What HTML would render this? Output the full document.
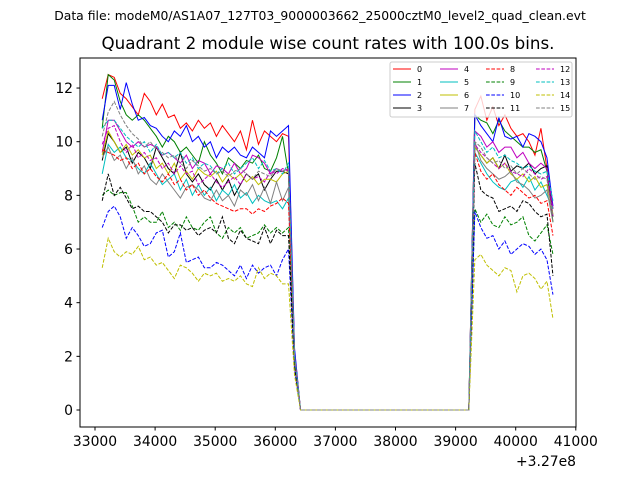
<!DOCTYPE html>
<html><head><meta charset="utf-8"><style>
body{margin:0;background:#fff;}
svg{display:block;font-family:"DejaVu Sans","Liberation Sans",sans-serif;}
</style></head><body>
<svg id="chart" width="640" height="480" viewBox="0 0 640 480">
<rect width="640" height="480" fill="#fff"/>
<text x="320" y="20" font-size="12.4" text-anchor="middle">Data file: modeM0/AS1A07_127T03_9000003662_25000cztM0_level2_quad_clean.evt</text>
<text x="328" y="49" font-size="16.7" text-anchor="middle">Quadrant 2 module wise count rates with 100.0s bins.</text>
<g id="series"></g>
<rect x="80" y="58" width="496" height="369" fill="none" stroke="#000" stroke-width="1"/>
<g id="axes"></g>
<text x="576" y="466" font-size="13.9" text-anchor="end">+3.27e8</text>
<g id="legend"></g>
</svg>
<script>
const colors=["#ff0000","#008000","#0000ff","#000000","#bf00bf","#00bfbf","#bfbf00","#808080"];
const xTicks=[33000,34000,35000,36000,37000,38000,39000,40000,41000];
const yTicks=[0,2,4,6,8,10,12];
const timeStart=33120, timeStep=100;
const gap=[0,0,0,0,0,0,0,0,0,0,0,0,0,0,0,0,0,0,0,0,0,0,0,0,0,0,0,0,0];
const left0=[11.6,12.5,12.4,11.8,11.6,11.3,11.0,11.8,11.5,11.0,11.4,10.9,11.0,10.5,10.7,10.4,10.8,10.5,10.7,10.2,10.6,10.3,10.0,10.4,9.7,10.8,9.9,10.4,10.2,10.0,10.3,10.2];
const left1=[10.5,12.5,12.3,11.5,11.0,10.8,11.0,10.8,10.5,10.2,9.8,10.2,10.0,9.6,9.8,9.5,9.2,10.0,9.5,9.2,8.8,9.4,9.2,9.0,9.3,9.2,9.5,9.0,8.9,9.4,10.2,8.8];
const left2=[10.8,12.1,12.1,11.2,12.2,11.4,10.8,10.9,10.6,10.5,10.2,10.0,10.4,10.2,10.6,10.0,10.2,9.8,10.0,9.4,9.8,9.6,9.8,9.5,9.4,9.8,9.6,9.4,10.4,10.2,10.4,10.6];
const left3=[9.3,10.3,10.0,9.6,9.8,9.2,9.6,9.4,9.0,9.8,9.4,9.0,8.8,9.6,8.8,8.5,8.8,8.4,8.2,8.6,8.2,8.6,8.0,8.4,8.8,8.6,8.8,8.2,8.6,8.9,8.9,8.8];
const left4=[9.6,10.8,10.8,10.4,10.0,9.8,10.0,9.8,9.9,9.8,9.5,9.6,9.4,9.2,9.5,9.0,9.3,9.2,8.8,9.1,9.0,8.8,9.2,8.8,9.0,9.5,9.4,9.2,8.8,9.0,8.9,9.0];
const left5=[8.8,9.9,9.6,9.8,9.4,9.3,9.0,8.8,9.2,8.8,8.4,8.6,8.8,8.2,8.6,8.0,8.4,8.0,8.3,7.8,8.2,8.0,8.4,7.9,8.1,7.7,8.0,7.8,7.7,7.8,7.5,7.9];
const left6=[9.5,10.4,10.0,9.6,9.9,9.5,9.7,9.4,9.5,9.0,9.2,8.8,9.2,8.6,8.9,8.6,9.0,8.8,8.7,8.9,8.5,8.8,8.6,8.8,8.5,8.7,8.4,8.6,8.6,8.5,8.8,8.9];
const left7=[9.4,9.8,9.3,9.5,9.0,9.4,8.8,9.1,8.6,8.4,8.8,8.5,8.2,7.9,8.3,8.4,8.2,7.9,7.8,8.2,7.8,8.0,7.6,8.2,8.0,8.4,7.8,8.3,7.7,8.5,7.8,8.3];
const left8=[9.7,9.6,9.5,9.3,9.4,9.0,9.2,8.8,9.0,8.7,8.5,8.8,8.4,8.6,8.2,8.4,8.0,8.2,7.9,7.7,7.6,7.5,7.4,7.5,7.5,7.3,7.5,7.4,7.6,7.7,7.9,7.7];
const left9=[8.0,8.2,8.0,8.1,8.1,7.6,7.0,7.2,7.0,7.0,7.4,6.8,7.0,6.7,7.2,6.8,6.7,7.0,7.2,6.6,6.4,6.8,6.6,6.8,6.4,6.5,6.6,6.9,6.6,6.8,6.6,6.8];
const left10=[6.8,7.4,7.6,7.2,6.4,6.8,6.5,6.1,6.2,6.6,6.7,5.7,5.9,6.6,5.5,5.6,5.7,5.3,5.3,5.5,5.4,5.2,5.0,5.4,4.9,5.4,5.1,5.3,5.4,5.0,5.6,6.0];
const left11=[7.8,8.8,8.0,8.3,7.9,7.5,7.6,7.4,7.4,7.2,7.0,6.6,6.9,6.9,6.7,6.8,6.5,6.7,6.8,6.6,7.2,6.4,6.2,6.7,6.4,6.3,6.2,6.8,6.2,6.7,6.5,6.5];
const left12=[9.9,10.5,10.6,10.0,9.6,9.9,9.4,9.6,9.3,9.4,9.0,9.2,8.8,9.1,8.8,8.9,8.4,8.6,8.8,8.5,8.3,8.5,8.7,8.4,8.8,8.6,8.7,8.5,8.9,8.8,9.0,8.9];
const left13=[10.5,10.8,10.8,10.5,10.2,10.0,9.8,10.0,9.6,9.9,9.5,9.6,9.4,9.6,9.2,9.4,9.0,9.2,9.1,8.8,9.0,9.2,8.8,9.0,9.2,9.4,9.0,9.3,8.9,9.0,8.8,9.2];
const left14=[5.3,6.4,5.9,5.7,5.9,5.8,6.1,5.6,5.7,5.4,5.5,5.2,4.9,5.4,5.3,5.1,4.8,5.1,5.0,5.1,4.8,4.9,4.8,5.0,4.7,4.6,5.3,4.9,5.1,5.0,4.7,4.7];
const left15=[10.2,11.1,11.5,11.0,10.6,10.3,10.1,9.8,10.0,9.7,9.6,9.4,9.5,9.2,9.0,9.3,9.1,8.9,9.0,8.8,8.9,8.7,8.9,9.0,8.8,8.6,8.9,8.8,8.7,9.0,8.9,9.0];
const drop=[2.2,2.1,2.3,2.0,2.0,1.9,2.0,1.9,1.8,1.7,1.5,1.7,2.0,2.0,1.3,2.0];
const right0=[11.2,11.7,10.8,11.3,10.6,11.0,10.5,10.2,10.3,10.0,9.5,10.5,9.0,7.5];
const right1=[11.0,10.8,10.7,10.3,10.8,10.4,10.2,10.0,9.8,9.8,9.6,9.7,8.9,7.0];
const right2=[11.0,10.6,10.3,10.0,10.9,10.2,10.1,10.2,9.8,10.3,10.2,10.0,9.4,7.6];
const right3=[9.8,9.5,9.2,9.4,9.0,9.5,8.9,9.1,9.0,9.2,8.8,9.0,9.1,7.2];
const right4=[10.4,10.2,9.8,10.0,9.6,9.8,9.8,9.4,9.6,9.2,9.0,9.2,9.0,7.5];
const right5=[9.6,9.2,8.8,8.5,8.3,8.2,8.5,8.6,8.3,8.7,8.2,8.5,8.0,7.5];
const right6=[9.8,9.5,9.2,9.4,9.0,9.2,8.8,8.6,8.8,8.5,8.7,8.3,8.4,7.3];
const right7=[10.0,9.3,9.0,8.8,8.6,8.7,8.9,8.5,8.4,8.2,7.9,8.0,8.2,7.0];
const right8=[9.6,8.9,8.6,8.8,8.4,8.2,8.0,8.3,8.1,7.9,8.0,7.7,7.8,6.5];
const right9=[7.5,7.0,7.3,6.9,6.8,7.2,6.9,7.0,7.2,6.5,6.3,6.6,6.9,5.8];
const right10=[7.4,6.8,6.4,6.5,6.0,6.3,5.8,6.0,6.2,6.1,5.8,6.0,5.6,4.3];
const right11=[9.2,8.2,8.0,7.9,7.4,7.5,7.6,7.4,7.8,7.7,7.4,7.2,7.3,5.0];
const right12=[9.9,9.6,9.4,9.2,9.0,9.2,8.9,8.8,8.7,9.0,8.8,8.6,8.7,7.2];
const right13=[10.4,10.0,9.6,9.8,9.4,9.5,9.3,9.2,9.0,9.1,8.9,8.8,8.9,7.8];
const right14=[5.6,5.8,5.4,5.2,5.0,5.3,5.2,4.4,5.0,5.1,4.9,4.5,4.8,3.4];
const right15=[10.0,9.8,9.4,9.2,9.3,9.0,9.1,8.8,9.0,8.8,8.6,8.7,8.6,7.2];
const lefts=[left0,left1,left2,left3,left4,left5,left6,left7,left8,left9,left10,left11,left12,left13,left14,left15];
const rights=[right0,right1,right2,right3,right4,right5,right6,right7,right8,right9,right10,right11,right12,right13,right14,right15];

const NS="http://www.w3.org/2000/svg";
function xs(v){return 95+(v-33000)*60.1/1000;}
function ys(v){return 410-v*26.83;}
function mk(t,a,p){const e=document.createElementNS(NS,t);for(const k in a)e.setAttribute(k,a[k]);p.appendChild(e);return e;}

const sg=document.getElementById('series');
for(let s=0;s<16;s++){
  const vals=lefts[s].concat([drop[s]],gap,rights[s]);
  let d="";
  vals.forEach((v,i)=>{const t=timeStart+i*timeStep;d+=(i?"L":"M")+xs(t).toFixed(2)+","+ys(v).toFixed(2);});
  const p=mk('path',{d:d,fill:'none',stroke:colors[s%8],'stroke-width':1},sg);
  if(s>=8)p.setAttribute('stroke-dasharray','3.7,1.6');
  
  
}
const ax=document.getElementById('axes');
xTicks.forEach(v=>{
  const x=xs(v);
  const l=mk('line',{x1:x,x2:x,y1:427,y2:430.5,stroke:'#000'},ax);
  
  
  const t=mk('text',{x:x,y:446,'font-size':13.9,'text-anchor':'middle'},ax);
  t.textContent=v;
  
  
});
yTicks.forEach(v=>{
  const y=ys(v);
  const l=mk('line',{x1:76.5,x2:80,y1:y,y2:y,stroke:'#000'},ax);
  
  
  const t=mk('text',{x:73,y:y+5,'font-size':13.9,'text-anchor':'end'},ax);
  t.textContent=v;
  
  
});
const lg=document.getElementById('legend');
const box=mk('rect',{x:390,y:62,width:182,height:55,rx:2,fill:'#fff','fill-opacity':0.8,stroke:'#ccc'},lg);


const colX=[393,440,486,536];
for(let s=0;s<16;s++){
  const c=Math.floor(s/4),r=s%4;
  const x=colX[c],y=69+r*13;
  const l=mk('line',{x1:x,x2:x+18,y1:y,y2:y,stroke:colors[s%8],'stroke-width':1},lg);
  if(s>=8)l.setAttribute('stroke-dasharray','3.7,1.6');
  
  
  const t=mk('text',{x:x+24,y:y+3,'font-size':8},lg);
  t.textContent=s;
  
  
}
</script>
</body></html>
